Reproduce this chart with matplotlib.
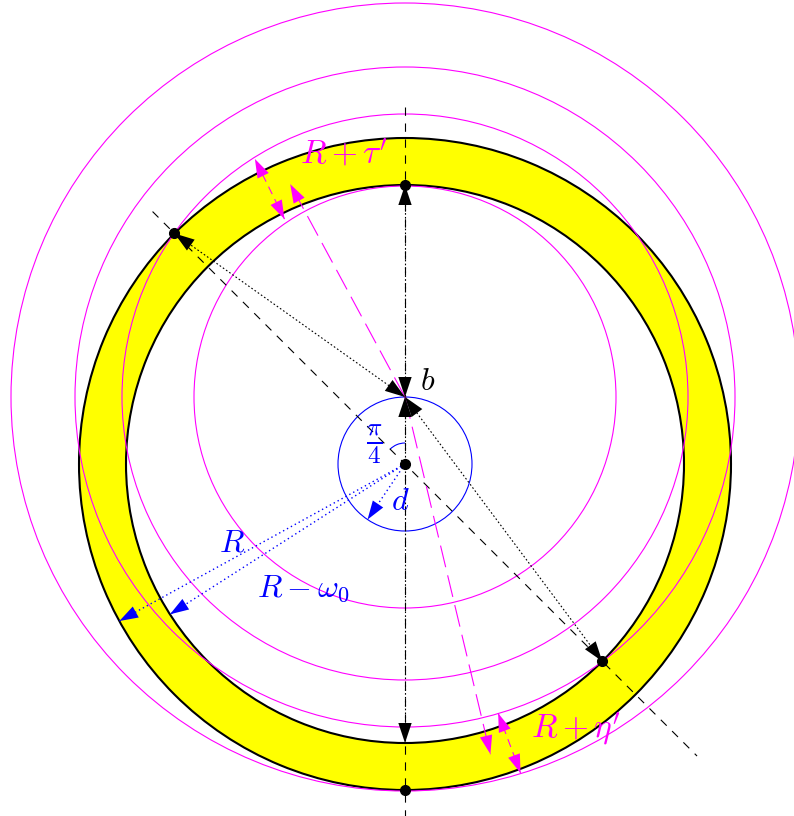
import numpy as np
import matplotlib
matplotlib.use("Agg")
import matplotlib.pyplot as plt
from matplotlib import patches

plt.rcParams["mathtext.fontset"] = "cm"
plt.rcParams["lines.scale_dashes"] = False

# geometry (pixel-ish units, origin at the annulus centre)
R = 326
OMEGA0 = 47
D = 67                                  # offset of b above the centre
MAGENTA_RADII = [211, 283, 330, 394]    # circles about b
R_MID = R - OMEGA0 / 2

# marked points on the annulus: (angle deg, radius)
DOTS = [(90, R - OMEGA0), (135, R), (-45, R - OMEGA0), (-90, R)]
# black dotted double arrows from b: (angle deg, radius) about the centre
B_ARROWS = [(90, R - OMEGA0), (-90, R - OMEGA0), (135, R), (-45, R - OMEGA0)]
# magenta: rays b -> mid-annulus
TAU_MID_ANGLE = 112.3
ETA_MID_ANGLE = -73.6
# magenta double arrows: (angle, r0, r1)
TAU_ARROW = (116.2, 273, 340)
ETA_ARROW = (-69.5, 266, 330)
# blue radius arrows: (angle, length)
BLUE_ARROWS = [(208.8, R), (212.6, R - OMEGA0), (236, D)]

MAG = "#ff00ff"
BLUE = "#0000ff"
DOTTED = (0, (1.2, 1.6))


def polar(a, r, c=(0, 0)):
    t = np.radians(a)
    return (c[0] + r * np.cos(t), c[1] + r * np.sin(t))


def arrow(ax, p, q, color, ls, lw=0.8, style="<|-|>", z=5, scale=15):
    ax.plot([p[0], q[0]], [p[1], q[1]], color=color, ls=ls, lw=lw, zorder=z)
    ax.annotate("", xy=q, xytext=p,
                arrowprops=dict(arrowstyle=style + ",head_length=0.9,head_width=0.3",
                                color=color, lw=0, shrinkA=0, shrinkB=0,
                                mutation_scale=scale), zorder=z + 1)


fig = plt.figure(figsize=(7.94, 8.16), dpi=100)
ax = fig.add_axes([0, 0, 1, 1])
ax.set_xlim(-405, 389)
ax.set_ylim(-352, 464)
ax.axis("off")

b = (0, D)

ax.add_patch(patches.Annulus((0, 0), R, OMEGA0, facecolor="#ffff00",
                             edgecolor="black", lw=1.5, zorder=1))
for r in MAGENTA_RADII:
    ax.add_patch(patches.Circle(b, r, fill=False, ec=MAG, lw=0.8, zorder=2))
ax.add_patch(patches.Circle((0, 0), D, fill=False, ec=BLUE, lw=0.8, zorder=2))
ax.add_patch(patches.Arc((0, 0), 42, 42, theta1=90, theta2=135, color=BLUE, lw=0.8, zorder=3))

# construction lines
p0, p1 = polar(135, 357), polar(-45, 413)
ax.plot([p0[0], p1[0]], [p0[1], p1[1]], color="black", lw=0.8, dashes=(6, 5.5), zorder=3)
ax.plot([0, 0], [357, -352], color="black", lw=0.8, dashes=(6, 5.5), zorder=3)

# black arrows from b
for a, r in B_ARROWS:
    arrow(ax, b, polar(a, r), "black", DOTTED, scale=16)

# magenta rays and arrows
arrow(ax, b, polar(TAU_MID_ANGLE, R_MID), MAG, (0, (16, 6)), style="-|>")
arrow(ax, b, polar(ETA_MID_ANGLE, R_MID), MAG, (0, (16, 6)), style="-|>")
for a, r0, r1 in (TAU_ARROW, ETA_ARROW):
    arrow(ax, polar(a, r0), polar(a, r1), MAG, (0, (6, 4)))

# blue radii
for a, L in BLUE_ARROWS:
    arrow(ax, (0, 0), polar(a, L), BLUE, (0, (1, 2.2)), lw=1.0, style="-|>")

for a, r in DOTS + [(0, 0)]:
    x, y = polar(a, r)
    ax.plot(x, y, "o", color="black", ms=7, zorder=8)

ax.text(23, 83, "$b$", fontsize=23, ha="center", va="center", zorder=9)
ax.text(-61, 309, r"$R+\tau'$", fontsize=24, color=MAG, ha="center", va="center", zorder=9)
ax.text(171, -265, r"$R+\eta'$", fontsize=24, color=MAG, ha="center", va="center", zorder=9)
ax.text(-173, -79, "$R$", fontsize=23, color=BLUE, ha="center", va="center", zorder=9)
ax.text(-102, -124, r"$R-\omega_0$", fontsize=23, color=BLUE, ha="center", va="center", zorder=9)
ax.text(-5, -38, "$d$", fontsize=23, color=BLUE, ha="center", va="center", zorder=9)
ax.text(-31, 20, r"$\frac{\pi}{4}$", fontsize=26, color=BLUE, ha="center", va="center", zorder=9)

fig.savefig("out.png", dpi=100)
